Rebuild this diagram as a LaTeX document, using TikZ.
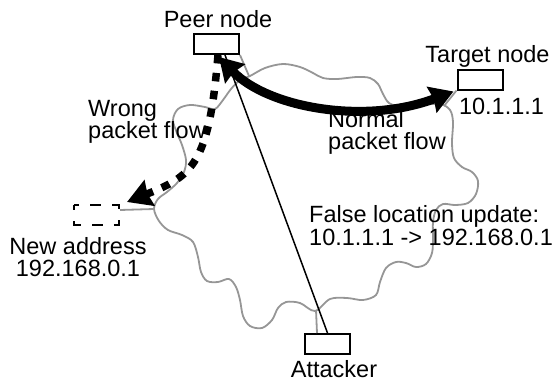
\documentclass[tikz,border=0pt]{standalone}
\usepackage{fontspec}
\setmainfont{Liberation Sans}
\usetikzlibrary{arrows.meta}
\definecolor{cloudgray}{RGB}{150,150,150}
\tikzset{
  lbl/.style={font=\fontsize{23.5}{22.5}\selectfont, inner sep=0pt, text=black},
  boxnode/.style={draw=black, line width=2pt, minimum width=45pt, minimum height=20pt, inner sep=0pt},
  hiddenbox/.style={draw=none, minimum width=45pt, minimum height=20pt, inner sep=0pt, outer sep=0pt},
  dashedge/.style={draw=black, line width=2pt, dash pattern=on 10.5pt off 11.17pt, dash phase=5.25pt},
  cloudline/.style={draw=cloudgray, line width=1.8pt}
}
\begin{document}
\begin{tikzpicture}[x=1pt,y=1pt]
\useasboundingbox (0,0) rectangle (555,-383);
% cloud
\draw[cloudline] plot[smooth cycle, tension=0.55] coordinates {
(250,-76) (265,-68) (283,-64) (300,-67) (313,-73) (323,-78) (337,-79) (357,-77) (370,-78) (378,-84) (383,-94) (389,-103) (400,-106) (420,-105) (440,-104) (450,-110) (453,-122) (452,-143) (454,-158) (462,-167) (472,-172) (478,-181) (476,-194) (468,-203) (455,-205) (443,-204) (436,-210) (433,-222) (433,-238) (432,-253) (426,-264) (416,-267) (406,-263) (396,-262) (386,-268) (380,-282) (376,-295) (363,-300) (347,-298) (330,-299) (315,-311) (300,-303) (286,-302) (278,-308) (272,-320) (262,-328) (250,-326) (243,-316) (240,-300) (236,-287) (229,-279) (218,-282) (207,-281) (201,-272) (198,-257) (193,-242) (182,-235) (168,-230) (159,-221) (154,-209) (158,-199) (167,-192) (177,-183) (184,-172) (186,-160) (182,-145) (177,-133) (173,-120) (178,-109) (190,-105) (205,-107) (215,-109) (223,-100) (231,-89) (240,-80)};
% nodes
\node[boxnode] (peer) at (216.5,-44) {};
\node[boxnode] (target) at (480,-79.5) {};
\node[boxnode] (attacker) at (327.5,-344) {};
\node[hiddenbox] (newaddr) at (96.5,-215) {};
\draw[dashedge] (newaddr.north west) rectangle (newaddr.south east);
% stubs
\coordinate (jpeer) at (249,-76);
\coordinate (jtarget) at (444,-106);
\coordinate (jnew) at (154,-209);
\coordinate (jatt) at (316,-310);
\draw[cloudline] (peer.south east) -- (jpeer);
\draw[cloudline] (target.south west) -- (jtarget);
\draw[cloudline] ([xshift=1pt,yshift=5pt]newaddr.east) -- (jnew);
\draw[cloudline] ([xshift=-10.5pt]attacker.north) -- (jatt);
% attacker line
\draw[black, line width=1.5pt] (attacker.north) -- ([xshift=8.5pt]peer.south);
% normal flow
\draw[black, line width=9pt, {Stealth[length=23pt,width=27pt,inset=2pt]}-{Stealth[length=23pt,width=27pt,inset=2pt]}]
  ([xshift=2.5pt,yshift=-2pt]peer.south) .. controls (268,-108) and (365,-125) .. ([xshift=-3pt,yshift=-1pt]target.south west);
% wrong flow
\draw[black, line width=7.5pt, dash pattern=on 8.5pt off 9.5pt, -{Stealth[length=24pt,width=27pt,inset=2pt]}]
  ([xshift=1.5pt]peer.south) .. controls (209,-165) and (192,-176) .. ([xshift=8pt,yshift=3pt]newaddr.north east);
% labels
\node[lbl, anchor=base] (peerlbl) at (218,-27) {Peer node};
\node[lbl, anchor=base] (targetlbl) at (487.5,-62) {Target node};
\node[lbl, anchor=base] (targetaddr) at (501.5,-114) {10.1.1.1};
\node[lbl, anchor=base west, align=left] (wrong) at (88,-138.5) {Wrong\\packet flow};
\node[lbl, anchor=base west, align=left] (normal) at (328,-149.5) {Normal\\packet flow};
\node[lbl, anchor=base west, align=left] (false) at (309,-245) {False location update:\\10.1.1.1 -> 192.168.0.1};
\node[lbl, anchor=base, align=center] (newlbl) at (78,-276.5) {New address\\192.168.0.1};
\node[lbl, anchor=base] (attlbl) at (334,-377) {Attacker};
\end{tikzpicture}
\end{document}
